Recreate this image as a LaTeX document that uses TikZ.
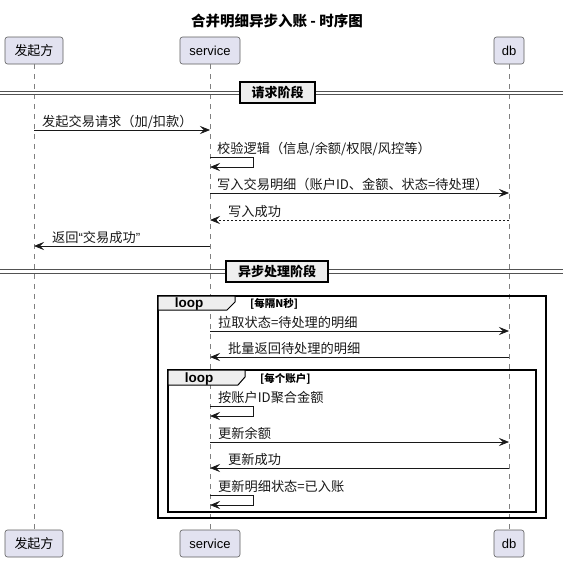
\documentclass[tikz,border=0pt]{standalone}
\usepackage{fontspec}
\setmainfont{Noto Sans CJK SC}
\newfontfamily\lat{Liberation Sans}
\usetikzlibrary{arrows.meta}
\definecolor{partfill}{HTML}{E2E2F0}
\definecolor{ink}{HTML}{181818}
\definecolor{tabfill}{HTML}{EEEEEE}
\begin{document}
\begin{tikzpicture}[x=1pt,y=-1pt,
  part/.style={draw=ink!70, line width=0.6pt, fill=partfill, rounded corners=2.5pt,
    minimum height=27pt, inner sep=0pt, font=\fontsize{13}{15}\selectfont},
  life/.style={draw=ink!55, line width=0.6pt, dash pattern=on 5pt off 5pt},
  msg/.style={draw=ink, line width=0.7pt, -{Stealth[length=10pt,width=8pt,inset=4pt]}},
  ret/.style={msg, dash pattern=on 2pt off 2pt},
  lbl/.style={font=\fontsize{13.2}{15}\selectfont, anchor=base west, inner sep=0pt, text=ink},
  divline/.style={draw=ink!75, line width=1pt},
  divbox/.style={draw=black, line width=1.6pt, fill=tabfill,
    font=\bfseries\fontsize{13}{15}\selectfont, inner sep=0pt, minimum height=21pt},
  frame/.style={draw=black, line width=1.6pt},
  tab/.style={fill=tabfill, draw=black, line width=1pt},
  looptxt/.style={font=\lat\bfseries\fontsize{13.5}{15}\selectfont, inner sep=0pt},
  guard/.style={font=\bfseries\fontsize{10.5}{12}\selectfont, anchor=west, inner sep=0pt},
]
\useasboundingbox (0,0) rectangle (563,562);

% title
\node[font=\bfseries\fontsize{14.5}{16}\selectfont] (title) at (277,21) {合并明细异步入账 - 时序图};

% participants
\node[part, minimum width=58pt] (pA) at (34,50.5) {发起方};
\node[part, minimum width=60pt] (pS) at (210,50.5) {\lat service};
\node[part, minimum width=30pt] (pD) at (509,50.5) {\lat db};
\node[part, minimum width=58pt] (qA) at (34,543.5) {发起方};
\node[part, minimum width=60pt] (qS) at (210,543.5) {\lat service};
\node[part, minimum width=30pt] (qD) at (509,543.5) {\lat db};

% lifelines
\draw[life] (pA.south) -- (qA.north);
\draw[life] (pS.south) -- (qS.north);
\draw[life] (pD.south) -- (qD.north);

% divider 1
\coordinate (d1l) at (0,91); \coordinate (d1r) at (563,91);
\coordinate (d1l2) at (0,94.5); \coordinate (d1r2) at (563,94.5);
\draw[divline] (d1l) -- (d1r);
\draw[divline] (d1l2) -- (d1r2);
\node[divbox, minimum width=75pt] (div1) at (277.5,92.5) {请求阶段};

% message 1
\coordinate (m1s) at (pA |- 0,130); \coordinate (m1e) at (pS |- 0,130);
\draw[msg] (m1s) -- (m1e);
\node[lbl] (t1) at (42,126.5) {发起交易请求（加/扣款）};

% self message 2
\coordinate (s1a) at (pS |- 0,157); \coordinate (s1b) at (pS |- 0,167);
\node[lbl] (t2) at (217,153) {校验逻辑（信息/余额/权限/风控等）};
\draw[msg] (s1a) -- ++(43,0) -- ++(0,10) -- (s1b);

% message 3
\coordinate (m3s) at (pS |- 0,193); \coordinate (m3e) at (pD |- 0,193);
\draw[msg] (m3s) -- (m3e);
\node[lbl] (t3) at (217,189.5) {写入交易明细（账户ID、金额、状态=待处理）};

% message 4 (return)
\coordinate (m4s) at (pD |- 0,220); \coordinate (m4e) at (pS |- 0,220);
\draw[ret] (m4s) -- (m4e);
\node[lbl] (t4) at (228,216.5) {写入成功};

% message 5
\coordinate (m5s) at (pS |- 0,246); \coordinate (m5e) at (pA |- 0,246);
\draw[msg] (m5s) -- (m5e);
\node[lbl] (t5) at (52,242.5) {返回{\lat “}交易成功{\lat ”}};

% divider 2
\coordinate (d2l) at (0,269.5); \coordinate (d2r) at (563,269.5);
\coordinate (d2l2) at (0,273); \coordinate (d2r2) at (563,273);
\draw[divline] (d2l) -- (d2r);
\draw[divline] (d2l2) -- (d2r2);
\node[divbox, minimum width=102pt] (div2) at (277,271.5) {异步处理阶段};

% outer loop
\draw[frame] (158,296) rectangle (546,518);
\draw[tab] (158,296) -- (235,296) -- (235,302) -- (227,310) -- (158,310) -- cycle;
\node[looptxt] (loop1) at (189,304.5) {loop};
\node[guard] (g1) at (250,304) {[每隔N秒]};

% message 6
\coordinate (m6s) at (pS |- 0,331); \coordinate (m6e) at (pD |- 0,331);
\draw[msg] (m6s) -- (m6e);
\node[lbl] (t6) at (218,327.5) {拉取状态=待处理的明细};

% message 7
\coordinate (m7s) at (pD |- 0,357); \coordinate (m7e) at (pS |- 0,357);
\draw[msg] (m7s) -- (m7e);
\node[lbl] (t7) at (228,353.5) {批量返回待处理的明细};

% inner loop
\draw[frame] (168,370) rectangle (536,512);
\draw[tab] (168,370) -- (245,370) -- (245,377) -- (238,385) -- (168,385) -- cycle;
\node[looptxt] (loop2) at (199,379) {loop};
\node[guard] (g2) at (260,378.5) {[每个账户]};

% self message 8
\coordinate (s2a) at (pS |- 0,406); \coordinate (s2b) at (pS |- 0,416);
\node[lbl] (t8) at (218,402) {按账户ID聚合金额};
\draw[msg] (s2a) -- ++(43,0) -- ++(0,10) -- (s2b);

% message 9
\coordinate (m9s) at (pS |- 0,442); \coordinate (m9e) at (pD |- 0,442);
\draw[msg] (m9s) -- (m9e);
\node[lbl] (t9) at (218,438.5) {更新余额};

% message 10
\coordinate (m10s) at (pD |- 0,468); \coordinate (m10e) at (pS |- 0,468);
\draw[msg] (m10s) -- (m10e);
\node[lbl] (t10) at (228,464.5) {更新成功};

% self message 11
\coordinate (s3a) at (pS |- 0,495); \coordinate (s3b) at (pS |- 0,505);
\node[lbl] (t11) at (218,491) {更新明细状态=已入账};
\draw[msg] (s3a) -- ++(43,0) -- ++(0,10) -- (s3b);
\end{tikzpicture}
\end{document}
